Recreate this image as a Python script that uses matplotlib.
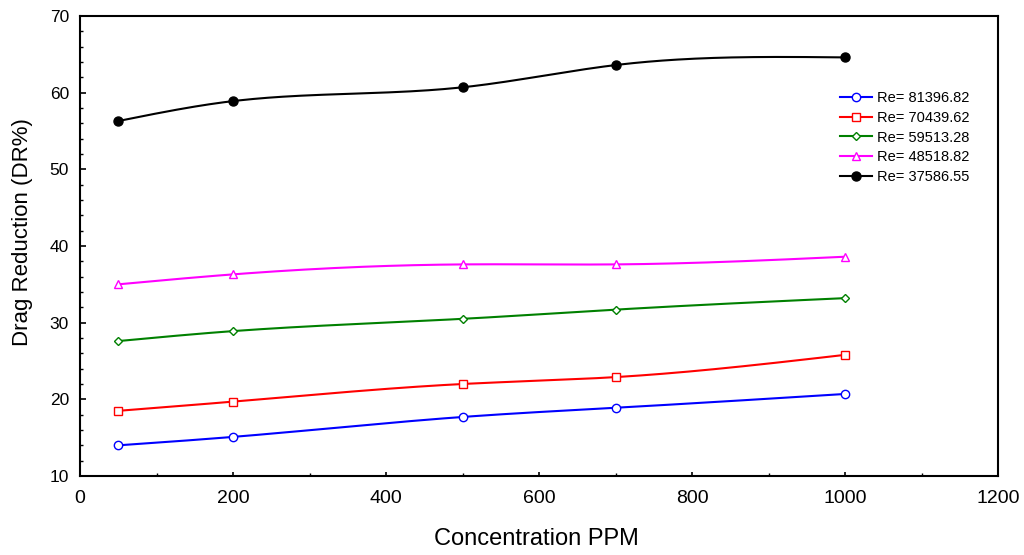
import numpy as np
import matplotlib
matplotlib.use("Agg")
import matplotlib.pyplot as plt
from matplotlib.ticker import MultipleLocator

plt.rcParams['font.family'] = ['Liberation Sans', 'DejaVu Sans']

conc = [50, 200, 500, 700, 1000]
re_labels = ["Re= 81396.82", "Re= 70439.62", "Re= 59513.28", "Re= 48518.82", "Re= 37586.55"]
dr_81396 = [14.0, 15.1, 17.7, 18.9, 20.7]
dr_70439 = [18.5, 19.7, 22.0, 22.9, 25.8]
dr_59513 = [27.6, 28.9, 30.5, 31.7, 33.2]
dr_48518 = [35.0, 36.3, 37.6, 37.6, 38.6]
dr_37586 = [56.3, 58.9, 60.7, 63.6, 64.6]

series = [dr_81396, dr_70439, dr_59513, dr_48518, dr_37586]
colors = ['#0000ff', '#ff0000', '#008000', '#ff00ff', '#000000']
markers = ['o', 's', 'D', '^', 'o']
msizes = [6, 6, 4.5, 6, 6.5]
fills = ['none', 'none', 'none', 'none', 'full']


def natural_spline(x, y, n=200):
    x = np.asarray(x, float); y = np.asarray(y, float)
    k = len(x)
    h = np.diff(x)
    A = np.zeros((k, k)); b = np.zeros(k)
    A[0, 0] = 1; A[-1, -1] = 1
    for i in range(1, k - 1):
        A[i, i - 1] = h[i - 1]
        A[i, i] = 2 * (h[i - 1] + h[i])
        A[i, i + 1] = h[i]
        b[i] = 3 * ((y[i + 1] - y[i]) / h[i] - (y[i] - y[i - 1]) / h[i - 1])
    c = np.linalg.solve(A, b)
    xs = np.linspace(x[0], x[-1], n)
    ys = np.empty_like(xs)
    for j, xv in enumerate(xs):
        i = min(np.searchsorted(x, xv, side='right') - 1, k - 2)
        dx = xv - x[i]
        bi = (y[i + 1] - y[i]) / h[i] - h[i] * (2 * c[i] + c[i + 1]) / 3
        di = (c[i + 1] - c[i]) / (3 * h[i])
        ys[j] = y[i] + bi * dx + c[i] * dx ** 2 + di * dx ** 3
    return xs, ys


fig = plt.figure(figsize=(10.24, 5.55), dpi=100)
ax = fig.add_axes([80 / 1024, 1 - 476 / 555, 918 / 1024, 460 / 555])

for vals, col, mk, ms, fl, lab in zip(series, colors, markers, msizes, fills, re_labels):
    xs, ys = natural_spline(conc, vals)
    ax.plot(xs, ys, color=col, lw=1.5, zorder=2)
    ax.plot(conc, vals, linestyle='none', marker=mk, markersize=ms,
            markerfacecolor=(col if fl == 'full' else 'white'),
            markeredgecolor=col, markeredgewidth=1.0, zorder=3)
    ax.plot([], [], color=col, lw=1.5, marker=mk, markersize=ms,
            markerfacecolor=(col if fl == 'full' else 'white'),
            markeredgecolor=col, label=lab)

ax.set_xlim(0, 1200)
ax.set_ylim(10, 70)
ax.xaxis.set_major_locator(MultipleLocator(200))
ax.xaxis.set_minor_locator(MultipleLocator(100))
ax.yaxis.set_major_locator(MultipleLocator(10))
ax.yaxis.set_minor_locator(MultipleLocator(2))
ax.tick_params(which='both', direction='in', top=False, right=False)
ax.tick_params(axis='y', which='major', length=4.5, width=1.2, labelsize=12.5, pad=8)
ax.tick_params(axis='y', which='minor', length=2.2, width=1.0)
ax.tick_params(axis='x', which='major', length=3, width=1.2, labelsize=14, pad=10)
ax.tick_params(axis='x', which='minor', length=2, width=1.0)
for s in ax.spines.values():
    s.set_linewidth(1.5)

ax.set_xlabel('Concentration PPM', fontsize=17)
ax.set_ylabel('Drag Reduction (DR%)', fontsize=16)
ax.xaxis.set_label_coords(0.497, -0.112)
ax.yaxis.set_label_coords(-0.051, 0.53)

ax.legend(loc='upper left', bbox_to_anchor=(0.821, 0.85), frameon=False,
          fontsize=10.5, handlelength=2.2, labelspacing=0.4, handletextpad=0.35,
          borderaxespad=0)

fig.savefig('out.png', dpi=100)
